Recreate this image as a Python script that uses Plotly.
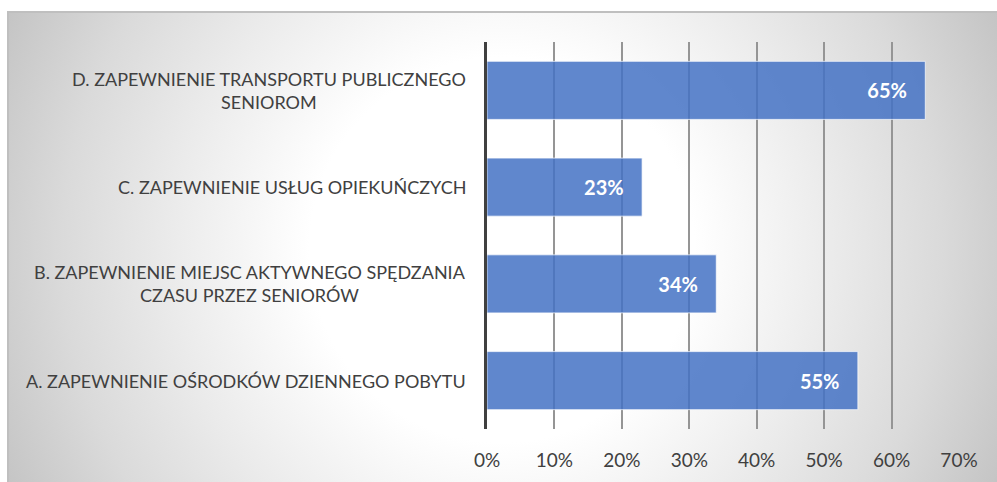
import base64
import plotly.graph_objects as go

# dane z wykresu
categories = [
    "A. ZAPEWNIENIE OŚRODKÓW DZIENNEGO POBYTU",
    "B. ZAPEWNIENIE MIEJSC AKTYWNEGO SPĘDZANIA<br>CZASU PRZEZ SENIORÓW",
    "C. ZAPEWNIENIE USŁUG OPIEKUŃCZYCH",
    "D. ZAPEWNIENIE TRANSPORTU PUBLICZNEGO<br>SENIOROM",
]
shares = [0.55, 0.34, 0.23, 0.65]
x_ticks = [0, 0.1, 0.2, 0.3, 0.4, 0.5, 0.6, 0.7]

W, H = 997, 482
FONT = "Lato"
TXT = "#404040"

# tło: gradient radialny (biały środek, szare rogi) jako obraz SVG
bw, bh = W - 8 + 10, H - 12 + 10
svg = f"""<svg xmlns="http://www.w3.org/2000/svg" width="{bw}" height="{bh}" viewBox="0 0 {bw} {bh}">
<defs><radialGradient id="g" gradientUnits="userSpaceOnUse" cx="494" cy="238" r="550">
<stop offset="0" stop-color="#ffffff"/>
<stop offset="0.35" stop-color="#ffffff"/>
<stop offset="0.6" stop-color="#ebebeb"/>
<stop offset="0.8" stop-color="#dadada"/>
<stop offset="1" stop-color="#c4c4c4"/>
</radialGradient></defs>
<rect x="0" y="0" width="{bw}" height="{bh}" fill="url(#g)"/>
</svg>"""
bg_src = "data:image/svg+xml;base64," + base64.b64encode(svg.encode("utf-8")).decode("ascii")

fig = go.Figure()

fig.add_trace(go.Bar(
    x=shares,
    y=categories,
    orientation="h",
    marker=dict(color="rgba(68,114,196,0.85)", line=dict(color="rgba(255,255,255,0.7)", width=1)),
    texttemplate="<b>%{x:.0%}</b>\u00a0\u00a0\u00a0",
    textposition="inside",
    insidetextanchor="end",
    textfont=dict(family=FONT, size=20, color="white"),
    hoverinfo="skip",
))

# etykiety kategorii (wyśrodkowane wiersze, wyrównane do prawej)
for cat in categories:
    fig.add_annotation(
        x=468 / W, xref="paper", y=cat, yref="y",
        text=cat, showarrow=False, xanchor="right", align="center",
        font=dict(family=FONT, size=18, color=TXT),
    )

fig.update_xaxes(
    domain=[487 / W, 959 / W],
    range=[0, 0.7],
    tickvals=x_ticks,
    tickformat=".0%",
    showgrid=True, gridcolor="#959595", gridwidth=1.5,
    zeroline=False, showline=False,
    automargin=False,
    ticklabelstandoff=18,
    tickfont=dict(family=FONT, size=19, color=TXT),
)
fig.update_yaxes(
    domain=[1 - 429 / H, 1 - 42 / H],
    categoryorder="array", categoryarray=categories,
    range=[-0.5, 3.5],
    showticklabels=False, showgrid=False, zeroline=False,
    automargin=False,
    showline=True, linecolor="#404040", linewidth=3,
)

fig.add_layout_image(
    source=bg_src, xref="paper", yref="paper",
    x=8 / W, y=1 - 12 / H, sizex=bw / W, sizey=bh / H,
    xanchor="left", yanchor="top", sizing="stretch", layer="below",
)
fig.add_shape(
    type="rect", xref="paper", yref="paper",
    x0=8 / W, x1=1.05, y0=-0.05, y1=1 - 12 / H,
    line=dict(color="#bfbfbf", width=2), layer="below",
)

fig.update_layout(
    width=W, height=H,
    autosize=False,
    margin=dict(l=0, r=0, t=0, b=0),
    paper_bgcolor="white",
    plot_bgcolor="rgba(0,0,0,0)",
    bargap=0.4,
    showlegend=False,
    font=dict(family=FONT, color=TXT),
)

# bez marginesu strony, żeby wykres zajął całe okno
post = "document.body.style.margin='0';document.body.style.overflow='hidden';"

fig.write_html("out.html", post_script=post, config={"displayModeBar": False})
